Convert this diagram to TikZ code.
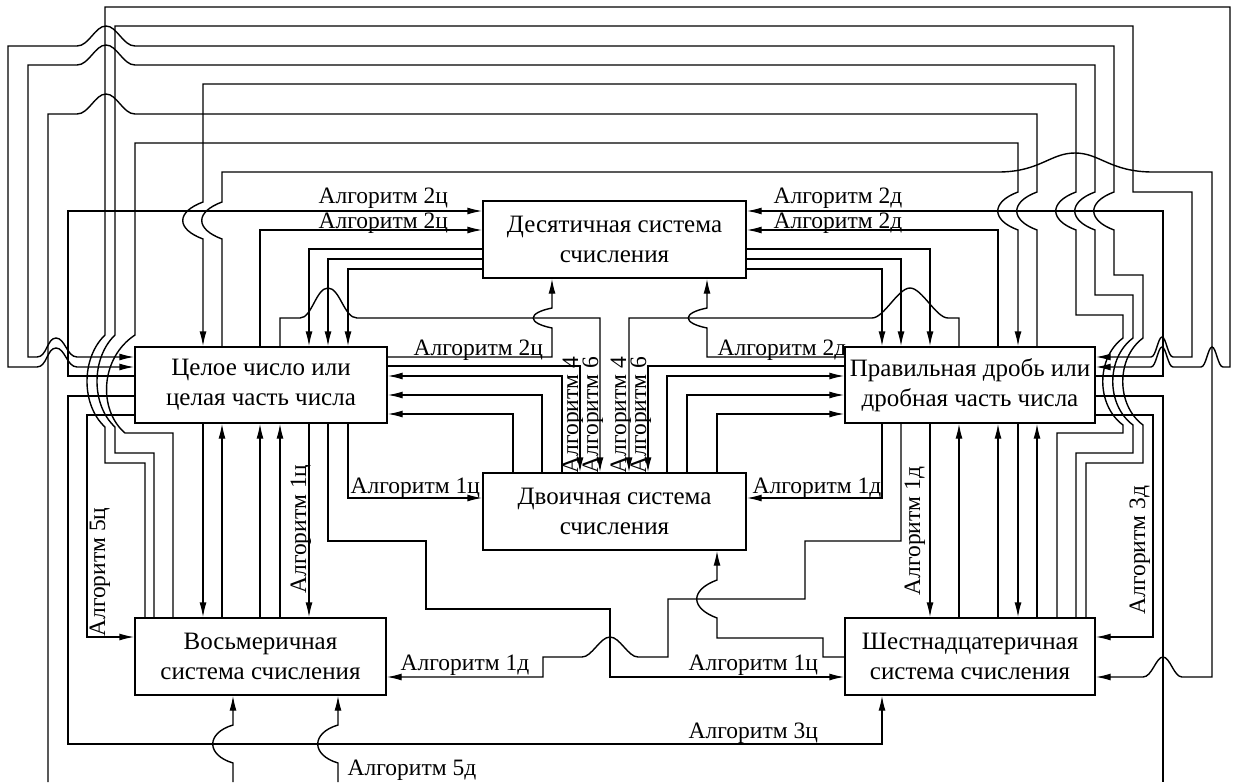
\documentclass[tikz,border=0pt]{standalone}
\usepackage{fontspec}
\setmainfont{Liberation Serif}
\usetikzlibrary{arrows.meta,calc}
\newcommand\boxfont{\fontsize{25}{30}\selectfont}
\newcommand\lblfont{\fontsize{23.5}{26}\selectfont}
\begin{document}
\begin{tikzpicture}[x=1pt,y=-1pt,line width=1.4pt,
  box/.style={draw,rectangle,align=center,inner sep=0pt,font=\boxfont},
  arr/.style={-{Latex[length=15pt,width=7pt]}},
  lbl/.style={inner sep=0pt,font=\lblfont,anchor=base west},
  vlbl/.style={inner sep=0pt,font=\lblfont,rotate=90,anchor=base}]
\useasboundingbox (0,0) rectangle (1236,782);
\fill[white] (0,0) rectangle (1236,782);

% number systems
\node[box,minimum width=263pt,minimum height=77pt] (dec)  at (614.5,239.5) {Десятичная система\\счисления};
\node[box,minimum width=252pt,minimum height=76pt] (int)  at (261,385)     {Целое число или\\целая часть числа};
\node[box,minimum width=250pt,minimum height=76pt] (frac) at (970,385)     {Правильная дробь или\\дробная часть числа};
\node[box,minimum width=263pt,minimum height=77pt] (bin)  at (614.5,511.5) {Двоичная система\\счисления};
\node[box,minimum width=251pt,minimum height=77pt] (oct)  at (260.5,656.5) {Восьмеричная\\система счисления};
\node[box,minimum width=250pt,minimum height=77pt] (hex)  at (970,656.5)   {Шестнадцатеричная\\система счисления};

% free ends at the lower edge
\coordinate (cutA) at (48,782);
\coordinate (cutB) at (1163,782);
\coordinate (cutC) at (233,782);
\coordinate (cutD) at (338,782);

% ---- integer part <-> decimal
\draw[arr] (int.west |- 0,376) -| (68,211) -- (dec.west |- 0,211);
\draw[arr] (int.north -| 260,0) |- (dec.west |- 0,230);
\draw[arr] (dec.west |- 0,249) -| (int.north -| 309,0);
\draw[arr] (dec.west |- 0,259) -| (int.north -| 328,0);
\draw[arr] (dec.west |- 0,269) -| (int.north -| 348,0);
\draw[arr] (int.east |- 0,357) -- (552,357) -- (552,328)
  .. controls (527,323) and (527,313) .. (552,308) -- (dec.south -| 552,0);

% ---- integer part <-> binary
\draw[arr] (int.north -| 280,0) -- (280,318) -- (300,318)
  .. controls (312,318) and (316,288) .. (328,288)
  .. controls (340,288) and (344,318) .. (357,318) -- (600,318) -- (bin.north -| 600,0);
\draw[arr] (int.east |- 0,366) -| (bin.north -| 580,0);
\draw[arr] (bin.north -| 562,0) |- (int.east |- 0,376);
\draw[arr] (bin.north -| 542,0) |- (int.east |- 0,395);
\draw[arr] (bin.north -| 513,0) |- (int.east |- 0,414);
\draw[arr] (int.south -| 348,0) |- (bin.west |- 0,498);

% ---- integer part <-> octal
\draw[arr] (int.south -| 203,0) -- (oct.north -| 203,0);
\draw[arr] (oct.north -| 222,0) -- (int.south -| 222,0);
\draw[arr] (oct.north -| 260,0) -- (int.south -| 260,0);
\draw[arr] (oct.north -| 280,0) -- (int.south -| 280,0);
\draw[arr] (int.south -| 309,0) -- (oct.north -| 309,0);
\draw[arr] (int.west |- 0,415) -| (87,637) -- (oct.west |- 0,637);

% ---- integer part -> hexadecimal
\draw[arr] (int.south -| 328,0) |- (426,541) |- (610,609) |- (hex.west |- 0,677);
\draw[arr] (int.west |- 0,396) -| (68,744) -| (hex.south -| 882,0);
\draw[arr] (int.north -| 222,0) -- (222,239) .. controls (195,229) and (195,212) .. (222,202)
  -- (222,172) -- (998,172) .. controls (1040,172) and (1050,153) .. (1075,153)
  .. controls (1100,153) and (1110,172) .. (1153,172) -- (1212,172) -- (1212,677)
  -- (1182,677) .. controls (1174,677) and (1170,657) .. (1163,657)
  .. controls (1156,657) and (1152,677) .. (1143,677) -- (hex.east |- 0,677);

% ---- hexadecimal -> integer part (three lines round the fraction box)
\draw[arr] (hex.north -| 1057,0) |- (1123,433) -- (1123,425)
  .. controls (1096,405) and (1096,358) .. (1123,338) |- (1076,315) -- (1076,230)
  .. controls (1049,220) and (1049,202) .. (1076,192) -- (1076,84) -| (203,202)
  .. controls (176,212) and (176,229) .. (203,239) -- (int.north -| 203,0);
\draw[arr] (hex.north -| 1076,0) |- (1133,453) -- (1133,425)
  .. controls (1106,405) and (1106,358) .. (1133,338) |- (1095,295) -- (1095,230)
  .. controls (1068,220) and (1068,202) .. (1095,192) -- (1095,65) -- (135,65)
  .. controls (123,65) and (117,45) .. (106,45) .. controls (95,45) and (89,65) .. (77,65)
  -- (28,65) -- (28,357) -- (37,357) .. controls (47,357) and (47,338) .. (56,338)
  .. controls (65,338) and (67,357) .. (77,357) -- (int.west |- 0,357);
\draw[arr] (hex.north -| 1086,0) |- (1143,463) -- (1143,425)
  .. controls (1116,405) and (1116,358) .. (1143,338) |- (1114,275) -- (1114,230)
  .. controls (1087,220) and (1087,202) .. (1114,192) -- (1114,46) -- (135,46)
  .. controls (123,46) and (117,26) .. (106,26) .. controls (95,26) and (89,46) .. (77,46)
  -- (8,46) -- (8,367) -- (37,367) .. controls (47,367) and (47,348) .. (56,348)
  .. controls (65,348) and (67,367) .. (77,367) -- (int.west |- 0,367);

% ---- octal -> fraction part (three lines round the integer box)
\draw[arr] (oct.north -| 145,0) |- (105,463) -- (105,427)
  .. controls (81,405) and (81,358) .. (105,335) -- (105,7) -| (1230,367) -- (1223,367)
  .. controls (1218,367) and (1216,347) .. (1212,347) .. controls (1208,347) and (1206,367) .. (1201,367)
  -- (1173,367) .. controls (1168,367) and (1166,347) .. (1162,347)
  .. controls (1158,347) and (1156,367) .. (1151,367) -- (frac.east |- 0,367);
\draw[arr] (oct.north -| 154,0) |- (115,453) -- (115,427)
  .. controls (91,405) and (91,358) .. (115,335) -- (115,26) -| (1133,192) -| (1192,357)
  -- (1173,357) .. controls (1168,357) and (1166,337) .. (1162,337)
  .. controls (1158,337) and (1156,357) .. (1151,357) -- (frac.east |- 0,357);
\draw[arr] (oct.north -| 173,0) |- (125,433)
  .. controls (98,410) and (100,358) .. (135,335) -- (135,143) -| (1018,192)
  .. controls (991,202) and (991,220) .. (1018,230) -- (frac.north -| 1018,0);

% ---- fraction part <-> decimal
\draw[arr] (frac.east |- 0,376) -| (1163,211) -- (dec.east |- 0,211);
\draw[arr] (frac.north -| 998,0) |- (dec.east |- 0,230);
\draw[arr] (dec.east |- 0,249) -| (frac.north -| 930,0);
\draw[arr] (dec.east |- 0,259) -| (frac.north -| 901,0);
\draw[arr] (dec.east |- 0,269) -| (frac.north -| 882,0);
\draw[arr] (frac.west |- 0,357) -- (707,357) -- (707,328)
  .. controls (682,323) and (682,313) .. (707,308) -- (dec.south -| 707,0);

% ---- fraction part <-> binary
\draw[arr] (frac.north -| 959,0) -- (959,318) -- (948,318)
  .. controls (936,318) and (922,288) .. (910,288)
  .. controls (898,288) and (884,318) .. (872,318) -- (629,318) -- (bin.north -| 629,0);
\draw[arr] (frac.west |- 0,366) -| (bin.north -| 648,0);
\draw[arr] (bin.north -| 667,0) |- (frac.west |- 0,376);
\draw[arr] (bin.north -| 687,0) |- (frac.west |- 0,395);
\draw[arr] (bin.north -| 717,0) |- (frac.west |- 0,414);
\draw[arr] (frac.south -| 882,0) |- (bin.east |- 0,498);

% ---- fraction part <-> hexadecimal
\draw[arr] (frac.south -| 930,0) -- (hex.north -| 930,0);
\draw[arr] (hex.north -| 959,0) -- (frac.south -| 959,0);
\draw[arr] (hex.north -| 998,0) -- (frac.south -| 998,0);
\draw[arr] (frac.south -| 1018,0) -- (hex.north -| 1018,0);
\draw[arr] (hex.north -| 1037,0) -- (frac.south -| 1037,0);
\draw[arr] (frac.east |- 0,415) -| (1153,637) -- (hex.east |- 0,637);

% ---- fraction part -> octal
\draw[arr] (frac.south -| 901,0) |- (805,541) |- (668,599) |- (638,657)
  .. controls (628,657) and (620,637) .. (610,637) .. controls (600,637) and (592,657) .. (582,657)
  -- (543,657) |- (oct.east |- 0,677);

% ---- hexadecimal -> binary
\draw[arr] (hex.west |- 0,657) -| (823,638) -| (717,618)
  .. controls (690,608) and (690,590) .. (717,580) -- (bin.south -| 717,0);

% ---- lines leaving at the lower edge
\draw (frac.north -| 1037,0) -- (1037,230) .. controls (1010,220) and (1010,202) .. (1037,192)
  -- (1037,114) -- (135,114) .. controls (123,114) and (117,94) .. (106,94)
  .. controls (95,94) and (89,114) .. (77,114) -- (48,114) -- (cutA);
\draw (frac.east |- 0,396) -| (cutB);
\draw[arr] (cutC) -- (233,763) .. controls (206,755) and (206,733) .. (233,725) -- (oct.south -| 233,0);
\draw[arr] (cutD) -- (338,763) .. controls (311,755) and (311,733) .. (338,725) -- (oct.south -| 338,0);

% ---- labels
\node[lbl] (l1)  at (318,203) {Алгоритм 2ц};
\node[lbl] (l2)  at (318,228) {Алгоритм 2ц};
\node[lbl] (l3)  at (773,203) {Алгоритм 2д};
\node[lbl] (l4)  at (773,228) {Алгоритм 2д};
\node[lbl] (l5)  at (413,355) {Алгоритм 2ц};
\node[lbl] (l6)  at (717,355) {Алгоритм 2д};
\node[lbl] (l7)  at (350,493) {Алгоритм 1ц};
\node[lbl] (l8)  at (752,493) {Алгоритм 1д};
\node[lbl] (l9)  at (400,670) {Алгоритм 1д};
\node[lbl] (l10) at (688,670) {Алгоритм 1ц};
\node[lbl] (l11) at (688,738) {Алгоритм 3ц};
\node[lbl] (l12) at (347,775) {Алгоритм 5д};
\node[vlbl] (v1) at (578,415) {Алгоритм 4};
\node[vlbl] (v2) at (598,415) {Алгоритм 6};
\node[vlbl] (v3) at (626,415) {Алгоритм 4};
\node[vlbl] (v4) at (646,415) {Алгоритм 6};
\node[vlbl] (v5) at (306,529) {Алгоритм 1ц};
\node[vlbl] (v6) at (920,531) {Алгоритм 1д};
\node[vlbl] (v7) at (105,572) {Алгоритм 5ц};
\node[vlbl] (v8) at (1145,550) {Алгоритм 3д};
\end{tikzpicture}
\end{document}
